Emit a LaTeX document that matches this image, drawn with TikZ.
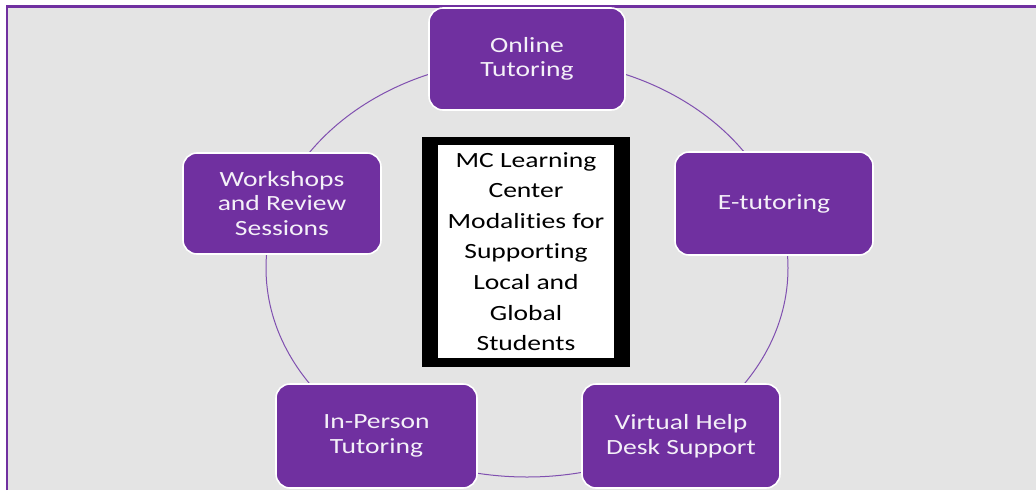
\documentclass[tikz,border=0pt]{standalone}
\usepackage{fontspec}
\setmainfont{Carlito}
\newfontfamily\wide[FakeStretch=1.27, Ligatures={NoCommon}]{Carlito}
\definecolor{mcpurple}{HTML}{7030A0}
\definecolor{ringpurple}{HTML}{8050B0}
\definecolor{bggray}{HTML}{E4E4E4}
\definecolor{txtwhite}{HTML}{F4F0F8}
\tikzset{
  modbox/.style={rectangle, rounded corners=14pt, fill=mcpurple, draw=white,
    line width=1.6pt, inner sep=0pt, minimum width=198pt, minimum height=103pt,
    align=center, text=txtwhite, font=\wide\fontsize{21.7}{24.5}\selectfont},
  ring/.style={draw=ringpurple, line width=1pt},
  frame/.style={draw=mcpurple, line width=2.2pt},
  centerouter/.style={rectangle, fill=black, inner sep=0pt, minimum width=208pt, minimum height=230pt},
  centerinner/.style={rectangle, fill=white, inner sep=0pt, minimum width=176pt, minimum height=213pt,
    align=center, text=black, font=\wide\fontsize{21.7}{30.6}\selectfont}
}
\begin{document}
\begin{tikzpicture}[x=1pt,y=-1pt]
\useasboundingbox (0,0) rectangle (1036,490);
\fill[white] (0,0) rectangle (1036,490);
\fill[bggray] (7,6.5) rectangle (1036,490);
\draw[frame] (7,490) -- (7,6.5) -- (1036,6.5);
\draw[ring] (527,268) ellipse [x radius=261, y radius=209];
\node[modbox, minimum width=196pt, minimum height=102pt] (online) at (527,59) {Online\\Tutoring};
\node[modbox] (etut) at (774,203.5) {E-tutoring};
\node[modbox, minimum height=101pt] (work) at (282,203.5) {Workshops\\and Review\\Sessions};
\node[modbox, minimum height=104pt] (virt) at (681,436) {Virtual Help\\Desk Support};
\node[modbox, minimum width=201pt, minimum height=104pt] (inper) at (376.5,436) {In-Person\\Tutoring};
\node[centerouter] (cbox) at (526,252) {};
\node[centerinner] (ctext) at (526,251.5) {MC Learning\\Center\\Modalities for\\Supporting\\Local and\\Global\\Students};
\end{tikzpicture}
\end{document}
